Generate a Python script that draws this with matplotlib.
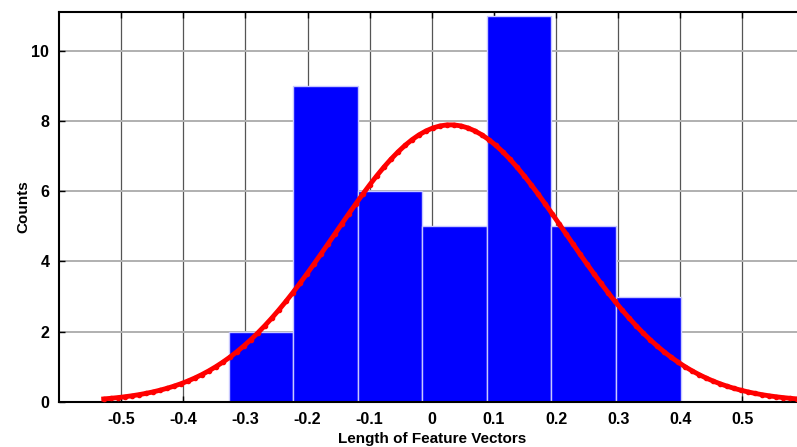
import numpy as np
import matplotlib
matplotlib.use("Agg")
import matplotlib.pyplot as plt

plt.rcParams["font.family"] = ["Liberation Sans", "DejaVu Sans"]
plt.rcParams["font.weight"] = "bold"

# histogram bins and counts
bin_left = -0.327
bin_width = 0.1039
counts = [2, 9, 6, 5, 11, 5, 3]

# fitted normal curve parameters
fit_mu = 0.030
fit_sigma = 0.186
fit_peak = 7.89

xticks = [-0.5, -0.4, -0.3, -0.2, -0.1, 0, 0.1, 0.2, 0.3, 0.4, 0.5]
xtick_labels = ["-0.5", "-0.4", "-0.3", "-0.2", "-0.1", "0", "0.1", "0.2", "0.3", "0.4", "0.5"]
yticks = [0, 2, 4, 6, 8, 10]

fig = plt.figure(figsize=(7.97, 4.47), dpi=100, facecolor="white")
ax = fig.add_axes([59 / 797, 1 - 402 / 447, 745.6 / 797, 390 / 447])

edges = bin_left + bin_width * np.arange(len(counts))
ax.bar(edges, counts, width=bin_width, align="edge", color="#0000ff",
       edgecolor="#c8c8ff", linewidth=1, zorder=2)

xs = np.linspace(fit_mu - 3 * fit_sigma, fit_mu + 3 * fit_sigma, 100)
ys = fit_peak * np.exp(-0.5 * ((xs - fit_mu) / fit_sigma) ** 2)
ax.plot(xs, ys, color="#ff0000", lw=3.5, marker=".", ms=6, zorder=3)

ax.set_xlim(-0.6, 0.6)
ax.set_ylim(0, 11.1)
ax.set_xticks(xticks)
ax.set_xticklabels(xtick_labels)
ax.set_yticks(yticks)

for x in xticks:
    ax.axvline(x, color="#555555", lw=0.9, zorder=1)
for y in yticks[1:]:
    ax.axhline(y, color="#b0b0b0", lw=1.4, zorder=1)

ax.tick_params(axis="both", direction="in", length=4, width=1, labelsize=11.5,
               top=True, right=False, pad=7)
for lab in ax.get_xticklabels() + ax.get_yticklabels():
    lab.set_fontweight("bold")

ax.spines["right"].set_visible(False)
for s in ["left", "top", "bottom"]:
    ax.spines[s].set_linewidth(1.5)

ax.set_xlabel("Length of Feature Vectors", fontsize=11, fontweight="bold", labelpad=4)
ax.set_ylabel("Counts", fontsize=11, fontweight="bold", labelpad=1)

fig.savefig("out.png", dpi=100, facecolor="white")
